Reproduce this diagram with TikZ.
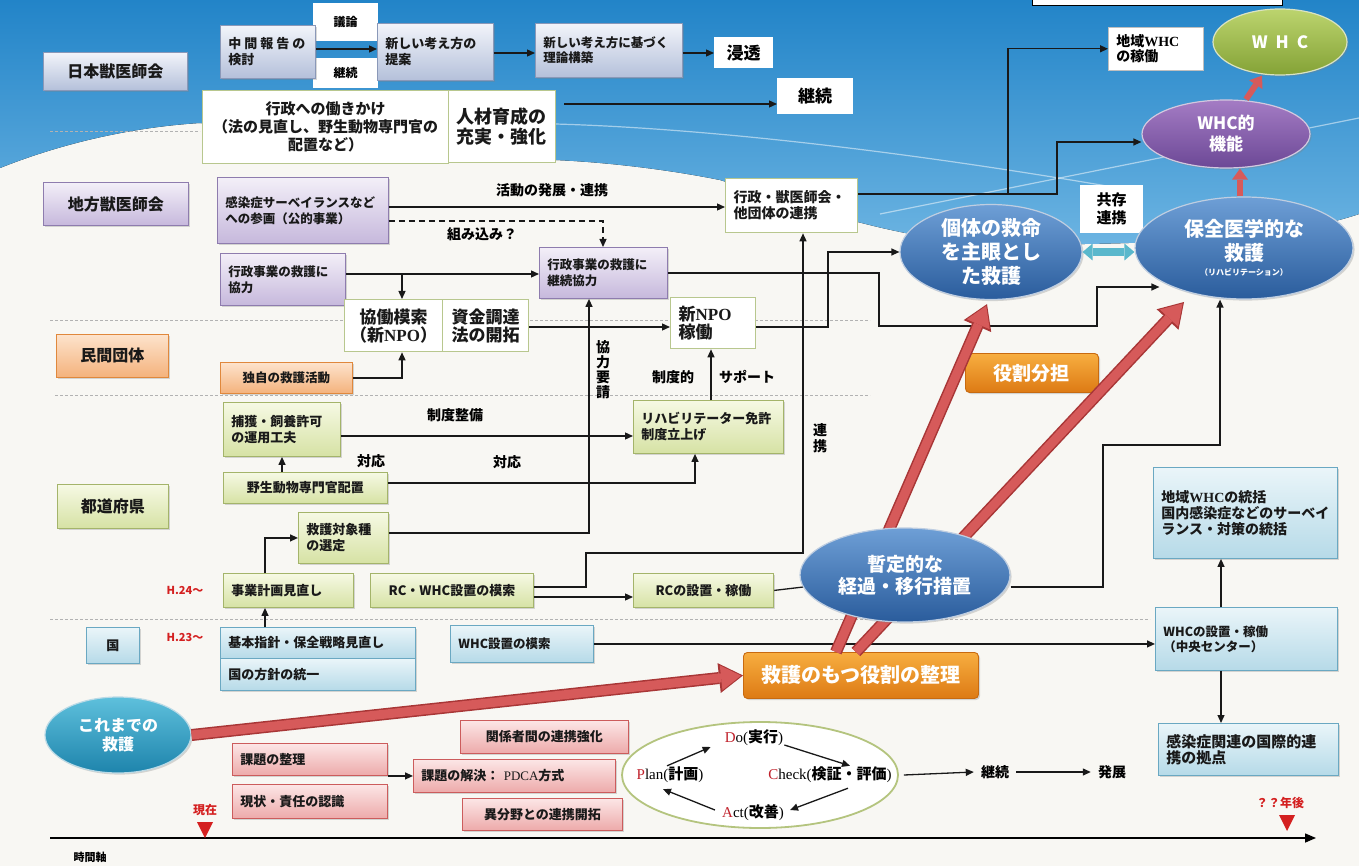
\documentclass[tikz,border=0pt]{standalone}
\usepackage{fontspec}
\setmainfont{Noto Sans CJK JP}
\newfontfamily\lserif{Liberation Serif}
\usetikzlibrary{arrows.meta,shapes.geometric,shadows,calc}
\pgfdeclarelayer{back}
\pgfdeclarelayer{mid}
\pgfsetlayers{back,mid,main}
\definecolor{pagebg}{HTML}{F8F7F3}
\definecolor{skyT}{RGB}{34,132,200}
\definecolor{skyB}{RGB}{108,180,226}
\definecolor{bgT}{HTML}{F2F4FA}\definecolor{bgB}{HTML}{B4C0DA}\definecolor{bgD}{HTML}{8A98B8}
\definecolor{puT}{HTML}{F3EFF8}\definecolor{puB}{HTML}{C6B8DC}\definecolor{puD}{HTML}{8E7CAE}
\definecolor{orT}{HTML}{FDE3CC}\definecolor{orB}{HTML}{F4B27C}\definecolor{orD}{HTML}{E0883C}
\definecolor{grT}{HTML}{F6F9E4}\definecolor{grB}{HTML}{D6E2A4}\definecolor{grD}{HTML}{A4B46A}
\definecolor{blT}{HTML}{EAF5F9}\definecolor{blB}{HTML}{B6DAE8}\definecolor{blD}{HTML}{6AA8C2}
\definecolor{reT}{HTML}{FCE6E6}\definecolor{reB}{HTML}{EDAAAA}\definecolor{reD}{HTML}{CC5C5C}
\definecolor{wbD}{HTML}{B8C78E}
\definecolor{ebT}{HTML}{6E9FD6}\definecolor{ebB}{HTML}{2A5C9C}
\definecolor{epT}{HTML}{A47CC4}\definecolor{epB}{HTML}{6C4896}
\definecolor{egT}{HTML}{BCD46E}\definecolor{egB}{HTML}{84A236}
\definecolor{etT}{HTML}{5EC0DC}\definecolor{etB}{HTML}{1E84AC}
\definecolor{ooT}{HTML}{F7AE40}\definecolor{ooB}{HTML}{DD7A14}\definecolor{ooD}{HTML}{C86A10}
\definecolor{raF}{HTML}{D65A5A}\definecolor{raD}{HTML}{A83636}
\definecolor{tealA}{HTML}{5AB8CC}
\definecolor{pdD}{HTML}{B4C47E}
\definecolor{pdR}{HTML}{C0202A}
\definecolor{redT}{HTML}{D42020}
\newcommand\fs[2]{\fontsize{#1pt}{#2pt}\selectfont\bfseries}
\newcommand\BX[7]{%
  \pgfmathsetmacro\bw{#5-#3}\pgfmathsetmacro\bh{#6-#4}%
  \node[#2,anchor=north west,minimum width=\bw pt,minimum height=\bh pt] (#1) at (#3,#4) {#7};}
\newcommand\BXL[7]{%
  \pgfmathsetmacro\bh{#6-#4}\pgfmathsetmacro\tw{#5-#3-16}%
  \node[#2,anchor=north west,minimum height=\bh pt,text width=\tw pt,align=left,inner xsep=8pt] (#1) at (#3,#4) {#7};}
\newcommand\RA[2]{%
  \draw[line width=12pt, draw=raD, -{Triangle[length=24pt,width=30pt,line width=0pt]}] #1 -- #2;
  \draw[line width=9pt, draw=raF, -{Triangle[length=20pt,width=25pt,line width=0pt]}, shorten >=2pt] #1 -- #2;}
\begin{document}
\begin{tikzpicture}[x=1pt,y=-1pt,
  sh/.style={drop shadow={shadow xshift=1.6pt,shadow yshift=-1.6pt,opacity=0.3}},
  box/.style={draw, line width=0.9pt, inner sep=4pt, align=center, font=\fs{13}{16}, text=black!90},
  bgray/.style={box, sh, draw=bgD, top color=bgT, bottom color=bgB},
  bpur/.style={box, sh, draw=puD, top color=puT, bottom color=puB},
  bora/.style={box, sh, draw=orD, top color=orT, bottom color=orB},
  bgrn/.style={box, sh, draw=grD, top color=grT, bottom color=grB},
  bblu/.style={box, sh, draw=blD, top color=blT, bottom color=blB},
  bred/.style={box, sh, draw=reD, top color=reT, bottom color=reB},
  wbox/.style={box, draw=wbD, fill=white, line width=1.3pt},
  plain/.style={fill=white, inner sep=2pt, align=center, font=\fs{12}{14}},
  orS/.style={box, sh, draw=ooD, top color=ooT, bottom color=ooB, text=white, rounded corners=4pt},
  lbl/.style={inner sep=1pt, align=center, font=\fs{14}{16}},
  redlbl/.style={inner sep=1pt, font=\fs{11}{13}, text=redT},
  pd/.style={inner sep=1pt, font=\fs{15}{17}},
  ell/.style={ellipse, inner sep=0pt, align=center, text=white, line width=1.2pt, sh},
  blueE/.style={ell, draw=white!70!ebB, top color=ebT, bottom color=ebB},
  purpE/.style={ell, draw=white!70!epB, top color=epT, bottom color=epB},
  greenE/.style={ell, draw=white!70!egB, top color=egT, bottom color=egB},
  tealE/.style={ell, draw=white!70!etB, top color=etT, bottom color=etB},
  arr/.style={draw=black!90, line width=1.3pt, -{Triangle[length=8pt,width=7pt]}},
  ln/.style={draw=black!90, line width=1.3pt},
  sep/.style={draw=black!30, line width=0.6pt, dash pattern=on 3pt off 2pt}]
\useasboundingbox (0,0) rectangle (1359,866);
\begin{pgfonlayer}{back}
\fill[pagebg] (0,0) rectangle (1359,866);
\fill[top color=skyT, bottom color=skyB] (0,0) -- (1359,0) -- (1359,214)
  .. controls (1290,238) and (1150,246) .. (1000,244)
  .. controls (900,242) and (800,205) .. (720,180)
  .. controls (660,168) and (600,162) .. (555,160) -- (450,156) -- (200,123)
  .. controls (120,128) and (50,148) .. (0,168) -- cycle;
\draw[white, opacity=0.5, line width=1.2pt] (555,124) .. controls (700,128) and (900,150) .. (1130,190);
\draw[white, opacity=0.5, line width=1.2pt] (880,214) -- (1359,118);
\draw[sep] (50,131) -- (200,131);
\draw[sep] (50,320) -- (870,320);
\draw[sep] (55,395) -- (870,395);
\draw[sep] (50,619) -- (1150,619);
\draw[black, line width=0.8pt, fill=white] (1032,-3) rectangle (1282,5);
\end{pgfonlayer}

% left labels
\BX{lab1}{bgray,font=\fs{16}{19}}{43}{52}{187}{90}{日本獣医師会}
\BX{lab2}{bpur,font=\fs{16}{19}}{43}{182}{188}{225}{地方獣医師会}
\BX{lab3}{bora,font=\fs{16}{19}}{56}{334}{168}{377}{民間団体}
\BX{lab4}{bgrn,font=\fs{16}{19}}{57}{484}{168}{528}{都道府県}
\BX{lab5}{bblu,font=\fs{13}{16}}{86}{627}{139}{663}{国}

% top row
\BX{giron}{plain}{313}{3}{378}{41}{議論}
\BX{keiz1}{plain}{313}{58}{378}{88}{継続}
\BXL{chukan}{bgray}{220}{25}{315}{78}{中\kern3pt 間\kern3pt 報\kern3pt 告\kern3pt の\\検討}
\BXL{teian}{bgray}{377}{23}{493}{80}{新しい考え方の\\提案}
\BXL{riron}{bgray,font=\fs{12.5}{15}}{535}{23}{682}{77}{新しい考え方に基づく\\理論構築}
\BX{shinto}{plain,font=\fs{17}{20}}{714}{37}{773}{68}{浸透}
\BX{gyosei}{wbox,font=\fs{15}{18}}{202}{90}{448}{163}{行政への働きかけ\\（法の見直し、野生動物専門官の\\配置など）}
\BXL{jinzai}{wbox,font=\fs{18}{20}}{448}{90}{555}{162}{人材育成の\\充実・強化}
\BX{keiz2}{plain,font=\fs{17}{20}}{777}{78}{853}{114}{継続}
\draw[arr] (chukan.east |- 0,49) -- (teian.west |- 0,49);
\draw[arr] (teian.east |- 0,53) -- (riron.west |- 0,53);
\draw[arr] (riron.east |- 0,53) -- (shinto.west |- 0,53);
\draw[arr,shorten <=8pt] (jinzai.east |- 0,104) -- (keiz2.west |- 0,104);

% top right
\BXL{chiiki}{plain,draw=black!25,line width=0.6pt,font=\fs{14}{15}}{1108}{27}{1203}{70}{地域{\lserif WHC}\\の稼働}
\node[greenE, minimum width=134pt, minimum height=66pt, font=\fs{17}{20}] (whc) at (1280,42) {W\hspace{8pt}H\hspace{8pt}C};
\node[purpE, minimum width=168pt, minimum height=68pt, font=\fs{17}{21}] (whcf) at (1226,134) {WHC的\\機能};
\BX{kyozon}{plain,font=\fs{15}{18}}{1080}{185}{1143}{233}{共存\\連携}
\node[blueE, minimum width=182pt, minimum height=92pt, font=\fs{20}{24}] (kotai) at (991,252) {個体の救命\\を主眼とし\\た救護};
\node[blueE, minimum width=218pt, minimum height=102pt, font=\fs{20}{24}] (hozen) at (1244,248) {保全医学的な\\救護\\[-9pt]{\fs{8}{10}（リハビリテーション）}};
\draw[line width=6pt, draw=raF, -{Triangle[length=11pt,width=16pt,line width=0pt]}] ([xshift=20pt]whcf.north) -- ([xshift=-18pt]whc.south);
\draw[line width=6pt, draw=raF, -{Triangle[length=11pt,width=16pt,line width=0pt]}] ([xshift=-4pt]hozen.north) -- ([xshift=14pt]whcf.south);
\draw[line width=8pt, draw=tealA, {Triangle[length=10pt,width=17pt,line width=0pt]}-{Triangle[length=10pt,width=17pt,line width=0pt]}] (kotai.east) -- (kotai.east -| hozen.west);

% row 2
\BXL{kansen}{bpur,font=\fs{12.5}{16}}{217}{177}{388}{243}{感染症サーベイランスなど\\への参画（公的事業）}
\BXL{renkei}{wbox,font=\fs{14}{16}}{725}{178}{857}{232}{行政・獣医師会・\\他団体の連携}
\draw[arr] (kansen.east |- 0,207) -- (renkei.west |- 0,207);
\node[lbl] (katsudo) at (552,190) {活動の発展・連携};
\draw[arr, dashed, dash pattern=on 6pt off 4pt] (kansen.east |- 0,221) -| (603,240) -- (603,247);
\node[lbl] (kumikomi) at (482,234) {組み込み？};
\BXL{kyoryoku}{bpur,font=\fs{12.5}{16}}{220}{253}{345}{305}{行政事業の救護に\\協力}
\BXL{keizokukyo}{bpur,font=\fs{12.5}{16}}{539}{247}{667}{298}{行政事業の救護に\\継続協力}
\draw[arr] (kyoryoku.east |- 0,274) -- (keizokukyo.west |- 0,274);
\coordinate (j1) at (402,274);
\BX{kyodo}{wbox,font=\fs{17}{18}}{344}{299}{442}{351}{協働模索\\（新{\lserif NPO}）}
\BX{shikin}{wbox,font=\fs{17}{18}}{442}{299}{528}{351}{資金調達\\法の開拓}
\BXL{newnpo}{wbox,font=\fs{17}{18}}{670}{297}{755}{348}{新{\lserif NPO}\\稼働}
\BX{dokuji}{bora,font=\fs{12.5}{15}}{220}{362}{352}{393}{独自の救護活動}
\draw[arr] (j1) -- (kyodo.north -| 402,0);
\draw[arr] (dokuji.east) -| (kyodo.south -| 402,0);
\draw[arr] (shikin.east |- 0,327) -- (newnpo.west |- 0,327);
\draw[arr] (newnpo.east |- 0,327) -| (828,252) -- (kotai.west);
\draw[arr] (keizokukyo.east) -| (879,326) -- (1097,326) |- ($(hozen.west)+(25,39)$);
\coordinate (jr) at (1008,194);
\draw[arr] (renkei.east |- 0,194) -- (1057,194) |- (whcf.west |- 0,142);
\draw[arr] (jr) |- (chiiki.west);

% prefecture rows
\BXL{hokaku}{bgrn}{223}{402}{340}{456}{捕獲・飼養許可\\の運用工夫}
\BX{yasei}{bgrn}{223}{472}{387}{503}{野生動物専門官配置}
\BXL{kyugo}{bgrn}{298}{512}{388}{563}{救護対象種\\の選定}
\BXL{jigyo}{bgrn}{223}{573}{353}{607}{事業計画見直し}
\BX{rcwhc}{bgrn}{370}{573}{533}{607}{RC・WHC設置の模索}
\BX{rcset}{bgrn}{633}{573}{773}{607}{RCの設置・稼働}
\BXL{rihabi}{bgrn}{633}{400}{783}{453}{リハビリテーター免許\\制度立上げ}
\draw[arr] (yasei.north -| 282,0) -- (hokaku.south -| 282,0);
\draw[arr] (hokaku.east |- 0,436) -- (rihabi.west |- 0,436);
\node[lbl] (seidoseibi) at (455,415) {制度整備};
\draw[arr] (yasei.east |- 0,483) -| (rihabi.south -| 695,0);
\node[lbl] (taio1) at (371,461) {対応};
\node[lbl] (taio2) at (507,462) {対応};
\draw[arr] (kyugo.east |- 0,533) -| (keizokukyo.south -| 589,0);
\node[lbl, font=\fs{14}{15}] (yosei) at (603,370) {協\\力\\要\\請};
\draw[arr] (jigyo.north -| 265,0) |- (kyugo.west);
\draw[arr] (rihabi.north -| 711,0) -- (newnpo.south -| 711,0);
\node[lbl] (seidoteki) at (673,377) {制度的};
\node[lbl] (support) at (747,377) {サポート};
\draw[arr] (rcwhc.east |- 0,587) -| (586,553) -| (renkei.south -| 803,0);
\node[lbl] (renkeiv) at (820,438) {連\\携};
\draw[arr] (rcwhc.east |- 0,597) -- (rcset.west |- 0,597);
\node[redlbl] (h24) at (185,590) {H.24〜};
\node[redlbl] (h23) at (185,637) {H.23〜};

% national row
\BXL{kihon}{bblu}{220}{627}{415}{658}{基本指針・保全戦略見直し}
\BXL{kuni}{bblu}{220}{658}{415}{690}{国の方針の統一}
\BXL{whcmoku}{bblu,font=\fs{12.5}{15}}{450}{625}{593}{662}{WHC設置の模索}
\BXL{whcset}{bblu,font=\fs{12.5}{15}}{1155}{607}{1337}{670}{WHCの設置・稼働\\（中央センター）}
\BXL{tokatsu}{bblu,font=\fs{14}{16}}{1153}{467}{1337}{558}{地域{\lserif WHC}の統括\\国内感染症などのサーベイ\\ランス・対策の統括}
\BXL{kokusai}{bblu,font=\fs{15}{16}}{1158}{723}{1338}{775}{感染症関連の国際的連\\携の拠点}
\draw[arr] (kihon.north -| 265,0) -- (jigyo.south -| 265,0);
\draw[arr] (whcmoku.east) -- (whcmoku.east -| whcset.west);
\draw[arr] (whcset.north -| 1221,0) -- (tokatsu.south -| 1221,0);
\draw[arr] (whcset.south -| 1221,0) -- (kokusai.north -| 1221,0);

% bottom
\node[tealE, minimum width=146pt, minimum height=76pt, font=\fs{16}{19}] (kore) at (118,735) {これまでの\\救護};
\BX{yakuwari}{orS,font=\fs{20}{24}}{743}{652}{978}{698}{救護のもつ役割の整理}
\BX{yakub}{orS,font=\fs{19}{22}}{965}{353}{1098}{392}{役割分担}
\RA{(kore.east)}{(yakuwari.west)}
\RA{([xshift=-25pt]yakuwari.north)}{($(kotai.south)+(-4,4)$)}
\RA{([xshift=-5pt]yakuwari.north)}{($(hozen.center)+(-60,54)$)}
\node[blueE, minimum width=210pt, minimum height=94pt, font=\fs{19}{22}] (zantei) at (905,575) {暫定的な\\経過・移行措置};
\begin{pgfonlayer}{mid}
\draw[ln] (rcset.east) -- (zantei.center);
\end{pgfonlayer}
\draw[arr] (zantei.east |- 0,587) -| (1103,445) -| (hozen.south -| 1220,0);

\BXL{kadai1}{bred}{232}{743}{387}{775}{課題の整理}
\BXL{kadai2}{bred}{232}{784}{387}{818}{現状・責任の認識}
\BX{kankei}{bred}{460}{720}{628}{753}{関係者間の連携強化}
\BXL{kaiketsu}{bred}{413}{759}{615}{792}{課題の解決：\ {\lserif\mdseries PDCA}方式}
\BX{ibunya}{bred}{462}{798}{622}{830}{異分野との連携開拓}
\draw[arr] (kaiketsu.west -| kadai1.east) -- (kaiketsu.west);

\node[ellipse, draw=pdD, line width=1.8pt, fill=white, minimum width=276pt, minimum height=106pt] (pdca) at (760,775) {};
\node[pd] (do) at (754,738) {{\lserif\mdseries\textcolor{pdR}{D}o(}実行{\lserif\mdseries )}};
\node[pd] (plan) at (670,775) {{\lserif\mdseries\textcolor{pdR}{P}lan(}計画{\lserif\mdseries )}};
\node[pd] (check) at (830,775) {{\lserif\mdseries\textcolor{pdR}{C}heck(}検証・評価{\lserif\mdseries )}};
\node[pd] (act) at (753,813) {{\lserif\mdseries\textcolor{pdR}{A}ct(}改善{\lserif\mdseries )}};
\draw[arr] ([xshift=-3pt]plan.north) -- ([xshift=-13pt,yshift=-9pt]do.west);
\draw[arr] ([yshift=-7pt]do.east) -- ([xshift=20pt]check.north);
\draw[arr] ([xshift=18pt,yshift=-4pt]check.south) -- ([xshift=5pt,yshift=3pt]act.east);
\draw[arr] ([xshift=-6pt,yshift=3pt]act.west) -- ([xshift=-7pt,yshift=-5pt]plan.south);
\node[lbl] (keiz3) at (995,772) {継続};
\node[lbl] (hatten) at (1112,772) {発展};
\draw[arr] ([xshift=5pt]pdca.east) -- ([xshift=-6pt]keiz3.west);
\draw[arr] ([xshift=6pt]keiz3.east) -- ([xshift=-6pt]hatten.west);

% time axis
\coordinate (ax0) at (50,838);
\coordinate (ax1) at (1316,838);
\draw[line width=1.5pt, -{Triangle[length=11pt,width=9pt]}] (ax0) -- (ax1);
\fill[redT] (197,822) -- (213,822) -- (205,838) -- cycle;
\fill[redT] (1279,815) -- (1295,815) -- (1287,831) -- cycle;
\node[redlbl, font=\fs{12}{14}] (genzai) at (205,810) {現在};
\node[redlbl, font=\fs{12}{14}] (nengo) at (1280,803) {？？年後};
\node[lbl, font=\fs{11}{13}] (jikan) at (90,857) {時間軸};
\end{tikzpicture}
\end{document}
